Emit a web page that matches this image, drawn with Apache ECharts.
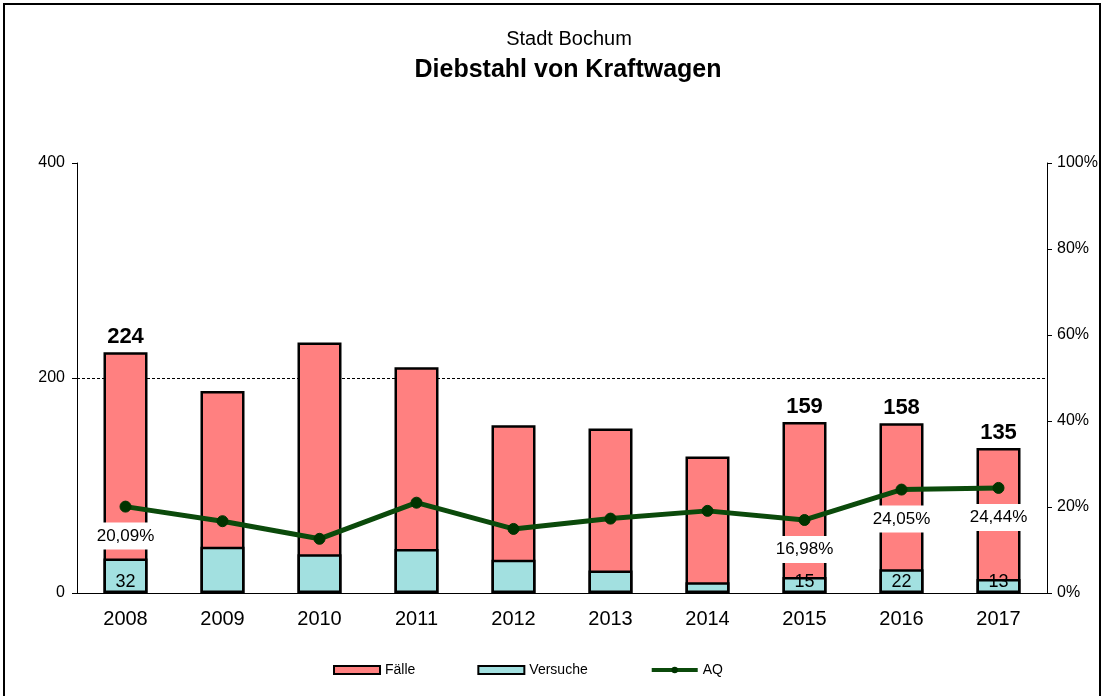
<!DOCTYPE html>
<html>
<head>
<meta charset="utf-8">
<script src="https://cdn.jsdelivr.net/npm/echarts@6/dist/echarts.min.js"></script>
<style>
  html, body { margin: 0; padding: 0; background: #fff; }
  #frame { position: absolute; left: 3px; top: 3px; width: 1098px; height: 700px;
           border: 2px solid #000; border-bottom: none; box-sizing: border-box; }
  #chart { position: absolute; left: 0; top: 0; width: 1109px; height: 696px; }
</style>
</head>
<body>
<div id="frame"></div>
<div id="chart"></div>
<script>
const years = ['2008', '2009', '2010', '2011', '2012', '2013', '2014', '2015', '2016', '2017']
const faelle = [224, 188, 233, 210, 156, 153, 127, 159, 158, 135]
const versuche = [32, 43, 36, 41, 31, 21, 10, 15, 22, 13]
const aq = [20.09, 16.7, 12.6, 21.0, 14.9, 17.3, 19.1, 16.98, 24.05, 24.44]
const labelYears = ['2008', '2015', '2016', '2017']
const leftTicks = [0, 200, 400]
const rightTicks = [0, 20, 40, 60, 80, 100]

const font = "'Liberation Sans Narrow', 'Liberation Sans', Arial, sans-serif"
const showLabel = (i) => labelYears.indexOf(years[i]) >= 0
const fmtPct = (v) => v.toFixed(2).replace('.', ',') + '%'

const chart = echarts.init(document.getElementById('chart'))

const option = {
  animation: false,
  textStyle: { fontFamily: font },
  title: [{
    text: 'Stadt Bochum',
    left: 564, top: 24, textAlign: 'center',
    textStyle: { fontSize: 20, fontWeight: 'normal', color: '#000', fontFamily: font }
  }, {
    text: 'Diebstahl von Kraftwagen',
    left: 563, top: 53, textAlign: 'center',
    textStyle: { fontSize: 25, fontWeight: 'bold', color: '#000', fontFamily: font }
  }],
  legend: {
    bottom: 14,
    left: 328,
    itemGap: 62,
    itemWidth: 46,
    itemHeight: 8,
    textStyle: { fontSize: 14, color: '#000', fontFamily: font },
    data: [
      { name: 'Fälle', icon: 'rect' },
      { name: 'Versuche', icon: 'rect' },
      { name: 'AQ', lineStyle: { width: 4, color: '#0B4A0B' } }
    ]
  },
  grid: { left: 77, right: 62, top: 163, bottom: 103 },
  xAxis: {
    type: 'category',
    data: years,
    axisLine: { lineStyle: { color: '#000', width: 1 } },
    axisTick: { length: 7, lineStyle: { color: '#000' } },
    axisLabel: { fontSize: 20, color: '#000', margin: 16, fontFamily: font }
  },
  yAxis: [{
    type: 'value',
    min: leftTicks[0], max: leftTicks[leftTicks.length - 1], interval: 200,
    axisLine: { show: true, lineStyle: { color: '#000' } },
    axisTick: { show: true, length: 5, lineStyle: { color: '#000' } },
    axisLabel: { fontSize: 16, color: '#000', margin: 12, fontFamily: font },
    splitLine: { show: true, lineStyle: { color: ['transparent', '#000', 'transparent'], type: [3, 2], width: 1 } }
  }, {
    type: 'value',
    min: rightTicks[0], max: rightTicks[rightTicks.length - 1], interval: 20,
    axisLine: { show: true, lineStyle: { color: '#000' } },
    axisTick: { show: true, length: 5, lineStyle: { color: '#000' } },
    axisLabel: { fontSize: 16, color: '#000', margin: 10, formatter: '{value}%', fontFamily: font },
    splitLine: { show: false }
  }],
  series: [{
    name: 'Fälle',
    type: 'bar',
    barWidth: 44,
    barGap: '-100%',
    itemStyle: { color: '#FF8080', borderColor: '#000', borderWidth: 2.5 },
    data: faelle.map((v, i) => ({
      value: v,
      label: {
        show: showLabel(i), position: 'top', distance: 4,
        fontSize: 22, fontWeight: 'bold', color: '#000', fontFamily: font
      }
    }))
  }, {
    name: 'Versuche',
    type: 'bar',
    barWidth: 44,
    itemStyle: { color: '#A2E0E0', borderColor: '#000', borderWidth: 2.5 },
    data: versuche.map((v, i) => ({
      value: v,
      label: {
        show: showLabel(i), position: 'insideBottom', distance: 2,
        fontSize: 18, color: '#000', fontFamily: font
      }
    }))
  }, {
    name: 'AQ',
    type: 'line',
    yAxisIndex: 1,
    symbol: 'circle',
    symbolSize: 11,
    lineStyle: { color: '#0B4A0B', width: 5 },
    itemStyle: { color: '#003300', borderColor: '#003300' },
    z: 5,
    data: aq.map((v, i) => ({
      value: v,
      label: {
        show: showLabel(i), position: 'bottom', distance: 10,
        formatter: (p) => fmtPct(p.value),
        backgroundColor: '#fff', padding: [5, 6],
        fontSize: 17, color: '#000', fontFamily: font
      }
    }))
  }]
}

chart.setOption(option)
</script>
</body>
</html>
